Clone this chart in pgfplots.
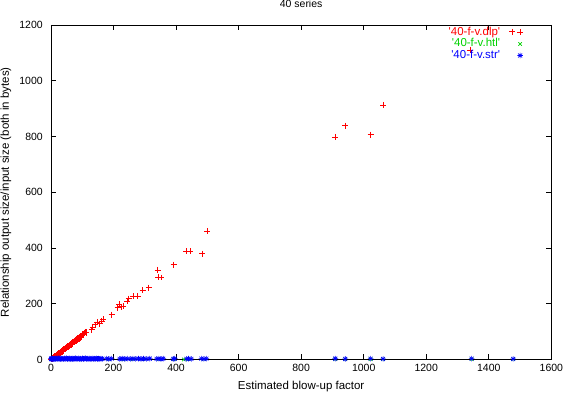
\documentclass[border=0pt]{standalone}
\usepackage{fontspec}
\setmainfont{Liberation Sans}
\usepackage{pgfplots}
\pgfplotsset{compat=1.18}
\definecolor{gpred}{RGB}{255,0,0}
\definecolor{gpgreen}{RGB}{0,210,0}
\definecolor{gpblue}{RGB}{0,0,255}
\pgfdeclareplotmark{gpstar}{%
 \pgfpathmoveto{\pgfqpoint{-\pgfplotmarksize}{0pt}}\pgfpathlineto{\pgfqpoint{\pgfplotmarksize}{0pt}}%
 \pgfpathmoveto{\pgfqpoint{0pt}{-\pgfplotmarksize}}\pgfpathlineto{\pgfqpoint{0pt}{\pgfplotmarksize}}%
 \pgfpathmoveto{\pgfqpoint{-.7\pgfplotmarksize}{-.7\pgfplotmarksize}}\pgfpathlineto{\pgfqpoint{.7\pgfplotmarksize}{.7\pgfplotmarksize}}%
 \pgfpathmoveto{\pgfqpoint{-.7\pgfplotmarksize}{.7\pgfplotmarksize}}\pgfpathlineto{\pgfqpoint{.7\pgfplotmarksize}{-.7\pgfplotmarksize}}%
 \pgfusepathqstroke}
\newcommand{\gf}{\fontsize{10.5bp}{12bp}\selectfont}
\newcommand{\lf}{\fontsize{11.5bp}{13bp}\selectfont}
\begin{document}
\begin{tikzpicture}
\begin{axis}[
 scale only axis, width=501bp, height=335bp,
 xmin=0, xmax=1600, ymin=0, ymax=1200,
 xtick={0,200,...,1600}, ytick={0,200,...,1200},
 minor tick num=0,
 tick align=inside, major tick length=5bp,
 axis line style={line width=0.6bp},
 every tick/.style={black, line width=0.6bp},
 /pgf/number format/assume math mode=true,
 /pgf/number format/1000 sep={},
 tick label style={font=\gf},
 x tick label style={anchor=north, inner sep=0pt, yshift=-5bp},
 y tick label style={anchor=east, inner sep=0pt, xshift=-8bp},
 title={40 series},
 title style={font=\gf, at={(axis description cs:0.5,1.045)}, anchor=center, inner sep=0pt},
 xlabel={Estimated blow-up factor},
 xlabel style={font=\lf, at={(axis description cs:0.5,-0.08)}, anchor=center, inner sep=0pt},
 ylabel={Relationship output size/input size (both in bytes)},
 ylabel style={font=\lf, at={(axis description cs:-0.09,0.5)}, anchor=center, inner sep=0pt},
 legend image code/.code={\path[draw=none,fill=none] (0bp,0bp) -- (24bp,0bp); \draw[#1] plot coordinates {(19bp,0bp)};},
 legend style={font=\lf, draw=none, fill=none, inner sep=0pt,
   at={(axis description cs:0.948,0.995)}, anchor=north east, row sep=0bp,
   nodes={inner sep=1bp, text height=7.5bp, text depth=2bp}},
 legend cell align=right, legend plot pos=right,
 clip=false,
]
\addplot[only marks, mark=+, mark size=3bp, gpred, line width=0.7bp] coordinates {
(1,1)(2,2)(3,2)(3,3)(4,4)(5,4)(5,5)(6,5)(7,6)(8,7)(8,8)(9,8)(10,9)(11,10)(12,11)(13,11)
(14,12)(15,13)(16,14)(17,15)(18,16)(19,17)(20,17)(21,19)(22,20)(23,20)(24,21)(25,22)
(26,23)(27,24)(28,25)(29,25)(30,26)(31,28)(32,28)(33,29)(34,30)(35,31)(36,32)(37,33)
(38,33)(39,35)(40,35)(41,36)(42,37)(43,38)(44,39)(45,40)(46,40)(47,42)(48,42)(49,43)
(50,44)(51,45)(52,46)(54,47)(55,49)(56,49)(58,51)(59,52)(60,53)(62,55)(63,55)(64,57)
(66,58)(67,59)(68,60)(70,62)(71,63)(72,64)(74,65)(75,67)(76,67)(78,69)(79,70)(80,71)
(82,73)(84,74)(85,76)(86,76)(88,78)(90,80)(91,81)(93,82)(95,84)(97,86)(99,88)(101,90)
(103,92)(106,94)(108,96)(110,97)(112,99)
(10,6)(15,10)(20,14)(25,19)(30,23)(35,28)(40,32)(45,36)(50,40)(55,44)(60,49)(65,53)
(70,57)(75,62)(80,66)(85,70)(90,75)(96,80)
(93,81)(101,90)(112,96)(130,107)(133,117)(141,125)(148,133)(156,129)(162,137)(167,144)
(194,161)(213,186)(218,198)(224,189)(231,192)(244,209)(249,218)(263,227)(277,227)
(293,248)(313,258)(341,321)(343,296)(353,294)(392,340)(433,388)(446,388)(484,380)(499,459)
(909,798)(941,839)(1022,806)(1062,913)(1341,1110)(1475,1175)
};
\addlegendentry{\color{gpred}\textquotesingle 40-f-v.dlp\textquotesingle}
\addplot[only marks, mark=x, mark size=2.5bp, gpgreen, line width=0.6bp] coordinates {
(2,1)(10,1)(25,1)(40,2)(60,1)(80,2)(100,1)(120,2)(140,1)(160,2)(185,1)(232,0)(262,1)
(296,1)(345,1)(393,1)(425,0)(440,1)(489,1)(909,1)(941,1)(1022,1)(1062,1)(1345,1)(1478,1)
};
\addlegendentry{\color{gpgreen}\textquotesingle 40-f-v.htl\textquotesingle}
\addplot[only marks, mark=gpstar, mark size=2.8bp, gpblue, line width=0.6bp] coordinates {
(0,2)(1,3)(2,1)(3,4)(5,2)(6,3)(8,1)(10,4)(12,2)(14,3)(16,1)(18,4)(20,2)(22,3)(24,5)
(26,2)(28,3)(30,1)(33,4)(35,2)(38,3)(40,1)(43,4)(45,2)(48,3)(50,5)(53,2)(55,3)(58,1)
(60,4)(63,2)(65,3)(68,1)(70,4)(73,2)(75,3)(78,5)(80,2)(83,3)(86,1)(89,4)(92,2)(95,3)
(98,1)(101,4)(104,2)(107,3)(110,5)(113,2)(116,3)(119,1)(122,4)(125,2)(128,3)(131,1)
(134,4)(137,2)(140,3)(143,2)(146,4)(149,2)(152,3)(156,2)(160,3)(164,2)
(178,3)(185,2)(194,3)(220,2)(228,3)(236,2)(245,3)(255,2)(262,3)(270,2)(280,3)(288,2)
(296,3)(305,2)(316,3)(338,2)(345,3)(352,2)(359,3)(391,2)(396,3)(433,2)(440,3)(449,2)
(481,3)(489,2)(497,3)(909,3)(941,2)(1022,3)(1062,2)(1345,3)(1478,2)
};
\addlegendentry{\color{gpblue}\textquotesingle 40-f-v.str\textquotesingle}
\end{axis}
\path[use as bounding box] (-51bp,-36bp) rectangle (512bp,356bp);
\end{tikzpicture}
\end{document}
